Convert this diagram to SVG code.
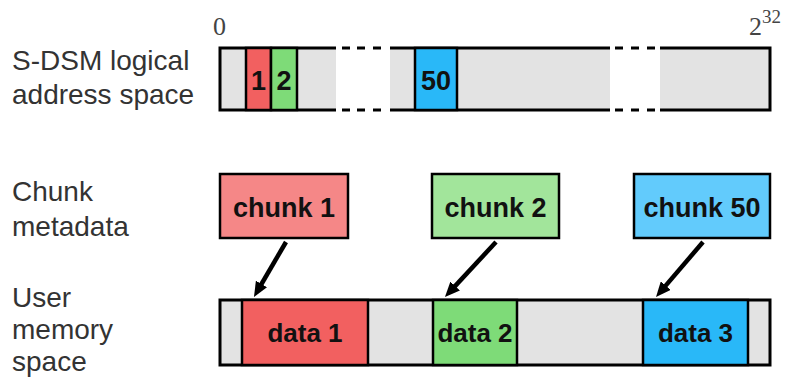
<svg xmlns="http://www.w3.org/2000/svg" width="790" height="380" viewBox="0 0 790 380">
<defs>
<style>
.lbl{font-family:"Liberation Sans",Arial,sans-serif;font-size:28px;fill:#333}
.num{font-family:"Liberation Serif","Times New Roman",serif;font-size:26px;fill:#444}
.b{font-family:"Liberation Sans",Arial,sans-serif;font-weight:bold;fill:#111;text-anchor:middle}
.gray{fill:#e3e3e3}
.ol{stroke:#000;stroke-width:3;fill:none}
.seg{stroke:#000;stroke-width:2.5}
.red{fill:#f26060}.lred{fill:#f58787}
.grn{fill:#7edb78}.lgrn{fill:#a2e59b}
.blu{fill:#29b8f8}.lblu{fill:#62cbfc}
.arr{stroke:#000;stroke-width:4.5;fill:none;marker-end:url(#ah)}
</style>
<marker id="ah" viewBox="0 0 15 13" markerWidth="15" markerHeight="13" markerUnits="userSpaceOnUse" refX="7" refY="6.5" orient="auto">
<path d="M0,0 L15,6.5 L0,13 z" fill="#000"/>
</marker>
</defs>

<g id="labels">
<text class="lbl" x="12" y="70">S-DSM logical</text>
<text class="lbl" x="12" y="104">address space</text>
<text class="lbl" x="12" y="201">Chunk</text>
<text class="lbl" x="12" y="236">metadata</text>
<text class="lbl" x="12" y="307">User</text>
<text class="lbl" x="12" y="339">memory</text>
<text class="lbl" x="12" y="371">space</text>
<text class="num" x="213" y="35">0</text>
<text class="num" x="749" y="35">2<tspan font-size="19" dy="-12">32</tspan></text>
</g>

<g id="logical-space">
<rect class="gray" x="220" y="48" width="116" height="62"/>
<rect class="gray" x="390" y="48" width="220" height="62"/>
<rect class="gray" x="660" y="48" width="110" height="62"/>
<path class="ol" d="M336,48 H220 V110 H336 M390,48 H610 M390,110 H610 M660,48 H770 V110 H660"/>
<path class="ol" d="M342,48 h8 M357,48 h8 M373,48 h8 M342,110 h8 M357,110 h8 M373,110 h8 M615,48 h8 M631,48 h8 M647,48 h8 M615,110 h8 M631,110 h8 M647,110 h8"/>
</g>
<g id="seg-1"><rect class="seg red" x="246" y="48" width="25" height="62"/><text class="b" x="258.5" y="90" font-size="27">1</text></g>
<g id="seg-2"><rect class="seg grn" x="271" y="48" width="26" height="62"/><text class="b" x="284" y="90" font-size="27">2</text></g>
<g id="seg-50"><rect class="seg blu" x="415" y="48" width="42" height="62"/><text class="b" x="436" y="90" font-size="27">50</text></g>

<g id="chunk-1"><rect class="seg lred" x="220" y="174" width="128" height="64"/><text class="b" x="284" y="217" font-size="27">chunk 1</text></g>
<g id="chunk-2"><rect class="seg lgrn" x="432" y="174" width="127" height="64"/><text class="b" x="495.5" y="217" font-size="27">chunk 2</text></g>
<g id="chunk-50"><rect class="seg lblu" x="634" y="174" width="136" height="64"/><text class="b" x="702" y="217" font-size="27">chunk 50</text></g>

<g id="user-space">
<rect class="ol" x="220" y="300" width="550" height="65" style="fill:#e3e3e3"/>
</g>
<g id="data-1"><rect class="seg red" x="242" y="300" width="126" height="65"/><text class="b" x="305" y="342" font-size="26">data 1</text></g>
<g id="data-2"><rect class="seg grn" x="433" y="300" width="84" height="65"/><text class="b" x="475" y="342" font-size="26">data 2</text></g>
<g id="data-3"><rect class="seg blu" x="643" y="300" width="105" height="65"/><text class="b" x="695.5" y="342" font-size="26">data 3</text></g>

<g id="connectors">
<line class="arr" x1="286" y1="242" x2="258" y2="290"/>
<line class="arr" x1="496" y1="242" x2="450.4" y2="291.1"/>
<line class="arr" x1="703" y1="242" x2="661.2" y2="290.9"/>
</g>
</svg>
